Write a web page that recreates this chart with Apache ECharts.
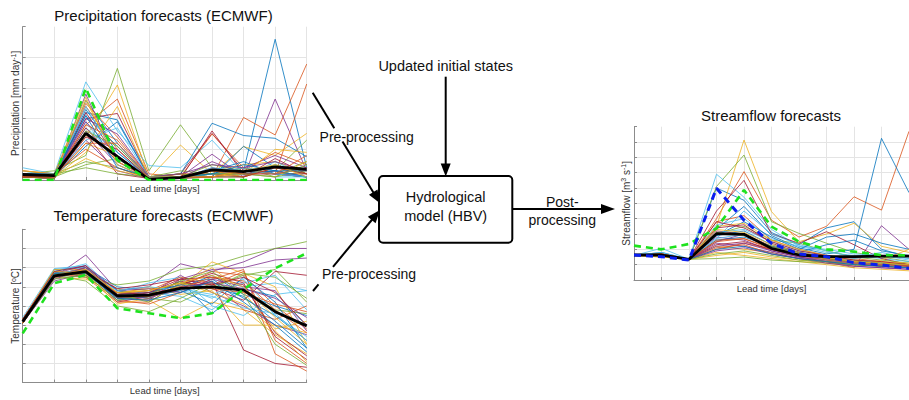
<!DOCTYPE html>
<html>
<head>
<meta charset="utf-8">
<script src="https://cdn.jsdelivr.net/npm/echarts@6/dist/echarts.min.js"></script>
<style>
  html, body { margin: 0; padding: 0; background: #ffffff; }
  #chart { width: 909px; height: 400px; }
</style>
</head>
<body>
<div id="chart"></div>
<script>
const FONT = "'Liberation Sans', Arial, sans-serif";
const memberColors = ['#0072BD', '#D95319', '#EDB120', '#7E2F8E', '#77AC30', '#4DBEEE', '#A2142F'];

// ---- Precipitation ensemble (mm/day), lead days 0..9 ----
const precipLead = [0, 1, 2, 3, 4, 5, 6, 7, 8, 9];
const precipMembers = [
  [2, 1, 22, 19.6, 1, 0.5, 2, 3, 45.9, 4],
  [1.5, 1, 18, 26.4, 2, 1, 1, 20.4, 14.7, 37.8],
  [3, 2, 14, 31, 0.5, 11.4, 2, 10.9, 8, 15.2],
  [1, 0.5, 16, 5, 0.5, 1, 8.4, 1, 26.4, 3],
  [2, 3, 8, 36.4, 3, 18, 4, 2, 3, 13],
  [4, 2, 32, 16, 4.7, 4, 13, 2, 1, 1],
  [2, 1, 20, 21.7, 1, 2, 15.2, 3, 2, 1],
  [1, 0.5, 26, 12, 1, 2, 18.5, 14.5, 13.6, 7.6],
  [2, 2, 24, 10, 0.5, 1, 15, 4, 2, 31.3],
  [1, 1, 12, 8, 0.5, 1, 3, 5, 6, 2],
  [2, 1, 28, 6, 1, 0.5, 2, 4, 8, 4],
  [1, 2, 6, 4, 0.5, 1, 5, 3, 2, 6],
  [3, 1, 17, 9, 1, 1, 3, 1, 5, 2],
  [1, 1, 22, 7, 0.5, 0.5, 16, 2, 3, 1],
  [2, 1, 11, 19, 1, 0.5, 1, 11, 4, 2],
  [1, 0.5, 25, 14, 1, 2, 1, 3, 9, 5],
  [2, 1, 9, 24, 0.5, 1, 2, 2, 10, 9],
  [1, 1, 13, 3, 0.5, 0.5, 4, 2, 3, 1],
  [1, 1, 5, 7, 1, 3, 2, 4, 1, 3],
  [2, 2, 19, 5, 0.5, 1, 2, 1, 6, 1],
  [1, 0.5, 15, 2, 0.5, 1, 1, 3, 2, 2],
  [1, 1, 21, 11, 1, 1, 3, 6, 2, 1],
  [3, 2, 10, 4, 0.5, 2, 2, 1, 4, 3],
  [2, 1, 7, 3, 1, 1, 1, 2, 1, 6],
  [1, 1, 19, 8, 0.5, 0.5, 6, 2, 2, 1],
  [1, 2, 4, 2, 1, 2, 1, 1, 5, 2],
  [2, 1, 13, 17, 1, 0.5, 2, 4, 3, 1],
  [1, 1, 17, 6, 0.5, 1, 3, 1, 7, 2],
  [2, 1, 23, 9, 0.5, 1, 2, 2, 3, 1],
  [1, 1, 18, 13, 1, 0.5, 1, 3, 2, 4],
  [3, 2, 27, 5, 0.5, 1, 3, 1, 4, 2],
  [2, 1, 20, 15, 1, 2, 5, 4, 6, 3],
  [1, 0.5, 16, 11, 0.5, 1, 2, 2, 1, 5],
  [2, 1, 24, 7, 1, 0.5, 4, 3, 2, 1],
  [1, 1, 14, 10, 0.5, 1, 1, 1, 4, 2],
  [2, 2, 21, 4, 1, 1, 2, 5, 3, 3],
  [1, 1, 12, 12, 0.5, 0.5, 3, 2, 2, 8],
  [2, 1, 26, 6, 1, 1, 1, 3, 5, 1]
];
const precipMean = [1.8, 1.4, 15.2, 7.6, 0.2, 0.8, 3.3, 2.7, 4.3, 3.5];
const precipObs = [0, 0, 30, 6.5, 0, 0, 0, 0, 0, 0];

// ---- Temperature ensemble, lead days 0..9 ----
const tempLead = [0, 1, 2, 3, 4, 5, 6, 7, 8, 9];
const tempMembers = [
  [32, 59, 60, 50, 48, 52, 54, 44, 35, 22],
  [31, 57, 58, 47, 46, 50, 58, 56, 40, 28],
  [33, 58, 57, 45, 43, 33.5, 42, 38, 25, 15],
  [32, 55, 66.6, 48, 50, 62, 58, 63, 70, 70],
  [31, 56, 55, 51, 53, 59, 61, 66, 70, 73.6],
  [34, 59.5, 61, 44, 47, 45, 38, 50, 52, 48],
  [31, 57, 59, 42, 45, 48, 53, 17, 10, 8],
  [32, 56, 58, 46, 44, 53, 36, 49, 45, 30],
  [33, 58, 56, 43, 41, 47, 54, 59, 15, 6],
  [32, 55, 54, 47, 49, 50, 63, 57, 50, 20],
  [31, 54, 59, 45, 46, 56, 47, 40, 30, 25],
  [32, 57, 57, 49, 44, 42, 50, 56, 59, 42],
  [33, 58, 62, 47, 52, 55, 40, 35, 46, 48],
  [31, 55, 58, 44, 47, 51, 57, 52, 24, 12],
  [32, 56, 60, 48, 45, 49, 56, 46, 40, 35],
  [32, 57, 55, 42, 42, 52, 51, 58, 22, 10],
  [33, 59, 59, 46, 50, 46, 48, 30, 30, 26],
  [31, 53, 57, 44, 43, 54, 59, 60, 64, 65],
  [32, 56, 53, 40, 37, 44, 52, 48, 38, 36],
  [31, 58, 61, 45, 48, 50, 44, 54, 35, 24],
  [33, 57, 56, 47, 46, 53, 49, 43, 58, 56],
  [32, 55, 58, 43, 45, 48, 41, 55, 42, 18],
  [31, 56, 60, 46, 48, 55, 52, 38, 33, 40],
  [32, 58, 57, 41, 44, 51, 60, 47, 28, 32],
  [33, 57, 61, 48, 49, 47, 54, 50, 48, 27],
  [31, 54, 56, 46, 42, 52, 49, 57, 55, 44],
  [32, 57, 59, 44, 46, 49, 46, 52, 56, 38],
  [32, 56, 58, 49, 51, 54, 55, 51, 26, 14],
  [32, 57, 58, 46, 47, 51, 50, 45, 32, 18],
  [31, 56, 59, 44, 45, 49, 55, 53, 38, 26],
  [33, 58, 57, 47, 48, 52, 47, 41, 27, 11],
  [32, 55, 60, 45, 44, 50, 52, 49, 44, 34],
  [31, 57, 56, 43, 46, 53, 58, 46, 20, 9],
  [32, 56, 58, 48, 50, 48, 45, 39, 36, 22],
  [33, 58, 61, 46, 47, 54, 51, 55, 47, 30],
  [32, 57, 57, 44, 43, 47, 53, 42, 30, 16],
  [31, 55, 58, 45, 46, 50, 49, 47, 41, 37],
  [32, 56, 59, 47, 48, 52, 56, 50, 34, 20]
];
const tempMean = [31.8, 55.7, 57.9, 45.2, 45.7, 49.2, 50, 48.3, 37, 29.6];
const tempObs = [25.7, 51.8, 56.2, 38.8, 36.2, 33.6, 36.2, 48.7, 59.7, 67.5];

// ---- Streamflow ensemble (m3/s), lead days 0..10 ----
const flowLead = [0, 1, 2, 3, 4, 5, 6, 7, 8, 9, 10];
const flowMembers = [
  [16, 18, 13.5, 60, 52, 31, 23, 34, 38, 20, 15],
  [16, 17, 13.5, 40, 70.7, 39, 28, 35, 54.3, 45.6, 97],
  [16, 16, 13.5, 35, 91.3, 44.6, 25, 30, 37, 22, 18],
  [16, 16, 13.5, 25, 30, 20, 15, 12, 8, 35.4, 20],
  [16, 17, 13.5, 61, 81.5, 38, 30.4, 24, 18, 15, 12],
  [16, 20.7, 13.5, 69, 54, 33, 22, 18, 16, 14, 12],
  [16, 17, 13.5, 45, 65, 30, 24, 31.5, 23, 14, 10],
  [16, 17, 13.5, 33, 48, 29, 21, 17, 20, 92.4, 57],
  [16, 16, 13.5, 38, 42, 26, 20, 16, 14, 12, 10],
  [16, 15, 13.5, 22, 20, 18, 14, 12, 10, 9, 8],
  [16, 16, 13.5, 28, 26, 19, 15, 12, 9, 8, 7],
  [16, 17, 13.5, 30, 35, 26, 24, 19, 15, 13, 11],
  [16, 18, 13.5, 36, 40, 27, 22, 20, 17, 16, 14],
  [16, 16, 13.5, 32, 30, 22, 18, 15, 12, 10, 9],
  [16, 17, 13.5, 26, 28, 22, 18, 23, 26, 19, 16],
  [16, 16, 13.5, 20, 24, 20, 16, 14, 12, 11, 10],
  [16, 15, 13.5, 18, 16, 14, 12, 10, 8, 7, 6],
  [16, 16, 13.5, 24, 22, 18, 14, 12, 10, 9, 8],
  [16, 16, 13.5, 14, 15, 13, 12, 11, 10, 9, 8],
  [16, 17, 13.5, 27, 45, 30, 23, 19, 15, 18, 14],
  [16, 16, 13.5, 23, 25, 20, 16, 13, 11, 10, 9],
  [16, 16, 13.5, 29, 38, 28, 20, 28, 30, 24, 20],
  [16, 17, 13.5, 21, 23, 17, 14, 12, 11, 10, 9],
  [16, 16, 13.5, 16, 18, 15, 13, 11, 9, 13, 20],
  [16, 16, 13.5, 19, 21, 17, 14, 11, 9, 8, 7],
  [16, 16, 13.5, 17, 19, 16, 13, 12, 11, 10, 9],
  [16, 17, 13.5, 31, 33, 25, 19, 16, 14, 16, 13],
  [16, 16, 13.5, 34, 36, 24, 18, 14, 11, 9, 8],
  [16, 17, 13.5, 29, 32, 23, 18, 15, 13, 11, 10],
  [16, 16, 13.5, 25, 27, 21, 17, 14, 12, 10, 9],
  [16, 17, 13.5, 35, 37, 26, 20, 16, 13, 12, 11],
  [16, 16, 13.5, 22, 24, 19, 15, 13, 11, 10, 9],
  [16, 17, 13.5, 31, 29, 22, 17, 14, 12, 11, 10],
  [16, 16, 13.5, 27, 30, 21, 16, 13, 11, 10, 8],
  [16, 17, 13.5, 38, 34, 25, 19, 16, 13, 12, 10],
  [16, 16, 13.5, 20, 22, 17, 14, 12, 10, 9, 8],
  [16, 17, 13.5, 26, 27, 20, 16, 13, 11, 10, 9],
  [16, 16, 13.5, 33, 31, 23, 18, 15, 12, 11, 10]
];
const flowMean = [16.3, 16.3, 13.5, 30.2, 29.8, 20.7, 16.3, 15.2, 15.2, 15.6, 15.6];
const flowObs = [22.4, 20, 23.5, 33.7, 58.7, 34.8, 25, 20, 18.5, 16.3, 16];
const flowPost = [16.3, 15.2, 13, 59.8, 39, 23.9, 17, 15.2, 11.3, 9.8, 7.6];

// Axis label strings (rich text for superscripts)
const precipYName = '{n|Precipitation [mm day}{s|-1}{n|]}';
const tempYName = '{n|Temperature [}{s|o}{n|C]}';
const flowYName = '{n|Streamflow [m}{s|3}{n| s}{s|-1}{n|]}';
const leadName = 'Lead time [days]';

const axisGray = '#8c8c8c';
const gridGray = '#e4e4e4';
const labelColor = '#333333';

function pairs(lead, vals) { return lead.map((x, i) => [x, vals[i]]); }

function xAxisFor(gi, max) {
  return {
    gridIndex: gi, type: 'value', min: 0, max: max, interval: 1,
    name: leadName, nameLocation: 'middle', nameGap: 3,
    nameTextStyle: { fontSize: 9.5, color: labelColor, fontFamily: FONT },
    axisLine: { show: true, onZero: false, lineStyle: { color: axisGray, width: 1 } },
    axisTick: { show: true, inside: true, length: 3, lineStyle: { color: axisGray } },
    axisLabel: { show: false },
    splitLine: { show: true, lineStyle: { color: gridGray, width: 1 } }
  };
}
function yAxisFor(gi, max, name, gap) {
  return {
    gridIndex: gi, type: 'value', min: 0, max: max, interval: 10,
    name: name, nameLocation: 'middle', nameGap: gap, nameRotate: 90,
    nameTextStyle: {
      color: labelColor, fontFamily: FONT, fontSize: 10,
      rich: {
        n: { fontSize: 10, color: labelColor, fontFamily: FONT, lineHeight: 12 },
        s: { fontSize: 7, color: labelColor, fontFamily: FONT, verticalAlign: 'top', lineHeight: 12 }
      }
    },
    axisLine: { show: true, onZero: false, lineStyle: { color: axisGray, width: 1 } },
    axisTick: { show: true, inside: true, length: 3, lineStyle: { color: axisGray } },
    axisLabel: { show: false },
    splitLine: { show: true, showMaxLine: false, lineStyle: { color: gridGray, width: 1 } }
  };
}

function ensembleSeries(gi, lead, members) {
  return members.map((m, k) => ({
    type: 'line', xAxisIndex: gi, yAxisIndex: gi, data: pairs(lead, m),
    symbol: 'none', silent: true, z: 2,
    lineStyle: { width: 0.8, color: memberColors[k % memberColors.length] }
  }));
}
function meanSeries(gi, lead, vals) {
  return { type: 'line', xAxisIndex: gi, yAxisIndex: gi, data: pairs(lead, vals),
    symbol: 'none', silent: true, z: 3, lineStyle: { width: 2.8, color: '#000000' } };
}
function dashedSeries(gi, lead, vals, color, width) {
  return { type: 'line', xAxisIndex: gi, yAxisIndex: gi, data: pairs(lead, vals),
    symbol: 'none', silent: true, z: 4,
    lineStyle: { width: width, color: color, type: [7, 5] } };
}

// Arrow head polygon pointing from (fx,fy) toward tip (tx,ty)
function arrowHead(tx, ty, fx, fy, len, hw) {
  const dx = tx - fx, dy = ty - fy, d = Math.hypot(dx, dy);
  const ux = dx / d, uy = dy / d;
  const bx = tx - ux * len, by = ty - uy * len;
  return {
    type: 'polygon', z: 10, silent: true,
    shape: { points: [[tx, ty], [bx - uy * hw, by + ux * hw], [bx + uy * hw, by - ux * hw]] },
    style: { fill: '#000000' }
  };
}
function seg(x1, y1, x2, y2, w) {
  return { type: 'line', z: 10, silent: true,
    shape: { x1: x1, y1: y1, x2: x2, y2: y2 },
    style: { stroke: '#000000', lineWidth: w || 2 } };
}
function label(text, x, y, size) {
  return { type: 'text', z: 11, silent: true,
    style: { text: text, x: x, y: y, fill: '#111111', font: size + 'px ' + FONT,
      fontSize: size, fontFamily: FONT,
      align: 'center', verticalAlign: 'middle', textAlign: 'center', textVerticalAlign: 'middle' } };
}

const chart = echarts.init(document.getElementById('chart'), null, { renderer: 'svg' });

const option = {
  animation: false,
  backgroundColor: '#ffffff',
  grid: [
    { left: 22.7, top: 26.7, width: 284, height: 153.3 },
    { left: 22.7, top: 229.3, width: 284, height: 153.3 },
    { left: 634, top: 126.7, width: 283, height: 153.3 }
  ],
  xAxis: [xAxisFor(0, 9), xAxisFor(1, 9), xAxisFor(2, 10)],
  yAxis: [yAxisFor(0, 50, precipYName, 1), yAxisFor(1, 80, tempYName, 1), yAxisFor(2, 100, flowYName, 2)],
  series: [].concat(
    ensembleSeries(0, precipLead, precipMembers),
    [meanSeries(0, precipLead, precipMean), dashedSeries(0, precipLead, precipObs, '#1ee21e', 2.6)],
    ensembleSeries(1, tempLead, tempMembers),
    [meanSeries(1, tempLead, tempMean), dashedSeries(1, tempLead, tempObs, '#1ee21e', 2.6)],
    ensembleSeries(2, flowLead, flowMembers),
    [meanSeries(2, flowLead, flowMean), dashedSeries(2, flowLead, flowObs, '#1ee21e', 2.6),
     dashedSeries(2, flowLead, flowPost, '#0a1ef0', 3)]
  ),
  graphic: [
    label('Precipitation forecasts (ECMWF)', 163.5, 15, 15),
    label('Temperature forecasts (ECMWF)', 163.5, 215, 15),
    label('Streamflow forecasts', 771, 115, 15),

    label('Updated initial states', 445.7, 65.7, 14.5),
    seg(445.7, 76.7, 445.7, 166),
    arrowHead(445.7, 176.5, 445.7, 76.7, 13, 5),

    { type: 'rect', z: 9, silent: true,
      shape: { x: 379, y: 176, width: 133.3, height: 66.7, r: 4 },
      style: { fill: '#ffffff', stroke: '#000000', lineWidth: 2 } },
    label('Hydrological', 445.7, 197, 14.5),
    label('model (HBV)', 445.7, 216, 14.5),

    seg(312.7, 92.7, 334.3, 128.2),
    label('Pre-processing', 366.7, 137.3, 14),
    seg(342.5, 141.6, 374, 193.5),
    arrowHead(380, 203.3, 312.7, 92.7, 13, 5),

    seg(313, 291, 318.5, 284.3),
    label('Pre-processing', 369, 274, 14),
    seg(333, 266.8, 373, 218.5),
    arrowHead(380, 210, 313, 291, 13, 5),

    seg(512.3, 209, 604, 209),
    arrowHead(615, 209, 512.3, 209, 14, 5),
    label('Post-', 562.3, 201.5, 14),
    label('processing', 562.3, 220, 14)
  ]
};

chart.setOption(option);
</script>
</body>
</html>
